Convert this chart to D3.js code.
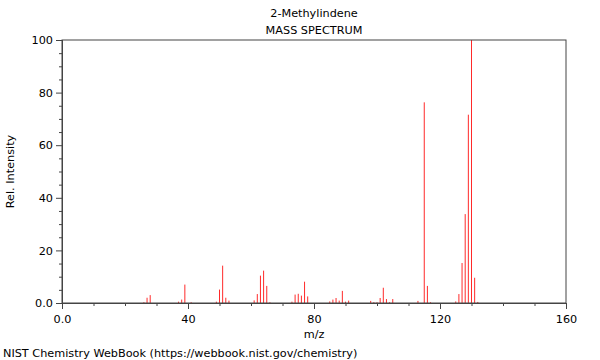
<!DOCTYPE html>
<html>
<head>
<meta charset="utf-8">
<script src="https://cdn.jsdelivr.net/npm/d3@7"></script>
<style>
  html, body { margin: 0; padding: 0; background: #fff; }
  svg { display: block; font-family: "DejaVu Sans", sans-serif; }
</style>
</head>
<body>
<svg id="chart" width="600" height="360"></svg>
<script>
const title = "2-Methylindene";
const subtitle = "MASS SPECTRUM";
const xLabel = "m/z";
const yLabel = "Rel. Intensity";
const footer = "NIST Chemistry WebBook (https://webbook.nist.gov/chemistry)";

const mz = [26, 27, 28, 37, 38, 39, 41, 49, 50, 51, 52, 53,
            61, 62, 63, 64, 65, 66, 73, 74, 75, 76, 77, 78,
            85, 86, 87, 88, 89, 90, 91, 98, 99, 100, 101, 102, 103, 104, 105,
            113, 115, 116, 117, 125, 126, 127, 128, 129, 130, 131, 132];
const intensity = [0.3, 2.0, 3.0, 0.5, 1.3, 7.0, 0.3, 0.5, 5.1, 14.2, 2.0, 0.9,
                   1.0, 3.4, 10.4, 12.3, 6.5, 0.3, 0.5, 3.2, 3.5, 2.8, 8.1, 2.5,
                   0.6, 1.3, 1.9, 0.9, 4.6, 0.5, 0.9, 0.8, 0.3, 0.3, 1.9, 5.8, 1.5, 0.3, 1.5,
                   0.8, 76.3, 6.5, 0.3, 0.6, 3.4, 15.2, 33.8, 71.6, 100, 9.6, 0.4];

const xMajorTicks = [0, 40, 80, 120, 160];
const xMinorTicks = [10, 20, 30, 50, 60, 70, 90, 100, 110, 130, 140, 150];
const yMajorTicks = [0, 20, 40, 60, 80, 100];
const yMinorTicks = [5, 10, 15, 25, 30, 35, 45, 50, 55, 65, 70, 75, 85, 90, 95];

const margin = {left: 62, right: 34, top: 40, bottom: 57};
const W = 600, H = 360;
const svg = d3.select("#chart");
const fs = "11.25px";

const x = d3.scaleLinear().domain([0, 160]).range([margin.left, W - margin.right]);
const y = d3.scaleLinear().domain([0, 100]).range([H - margin.bottom, margin.top]);

const axisColor = "#444";
const fmt = d => d === 0 ? "0.0" : String(d);

// peaks
svg.append("g").selectAll("line").data(mz).join("line")
  .attr("x1", d => x(d)).attr("x2", d => x(d))
  .attr("y1", y(0))
  .attr("y2", (d, i) => y(intensity[i]))
  .attr("stroke", "#ff2a2a")
  .attr("stroke-width", 1);

// frame
svg.append("rect")
  .attr("x", x(0)).attr("y", y(100))
  .attr("width", x(160) - x(0)).attr("height", y(0) - y(100))
  .attr("fill", "none").attr("stroke", axisColor).attr("stroke-width", 1);

// x axis
const gx = svg.append("g").attr("transform", `translate(0,${y(0)})`);
gx.call(d3.axisBottom(x).tickValues(xMajorTicks).tickFormat(fmt).tickSize(6).tickPadding(6));
const gx2 = svg.append("g").attr("transform", `translate(0,${y(0)})`);
gx2.call(d3.axisBottom(x).tickValues(xMinorTicks).tickFormat("").tickSize(3));

// y axis
const gy = svg.append("g").attr("transform", `translate(${x(0)},0)`);
gy.call(d3.axisLeft(y).tickValues(yMajorTicks).tickFormat(fmt).tickSize(6).tickPadding(3));
const gy2 = svg.append("g").attr("transform", `translate(${x(0)},0)`);
gy2.call(d3.axisLeft(y).tickValues(yMinorTicks).tickFormat("").tickSize(3));

[gx, gx2, gy, gy2].forEach(g => {
  g.select(".domain").attr("stroke", axisColor);
  g.selectAll(".tick line").attr("stroke", axisColor);
  g.selectAll(".tick text").attr("fill", "#000")
    .style("font-family", "DejaVu Sans, sans-serif").style("font-size", fs);
});

// titles
const cx = (x(0) + x(160)) / 2;
svg.append("text").attr("x", cx).attr("y", 17).attr("text-anchor", "middle")
  .style("font-size", fs).text(title);
svg.append("text").attr("x", cx).attr("y", 34).attr("text-anchor", "middle")
  .style("font-size", fs).text(subtitle);
svg.append("text").attr("x", cx).attr("y", 338).attr("text-anchor", "middle")
  .style("font-size", fs).text(xLabel);
svg.append("text").attr("transform", `translate(14,${(y(0) + y(100)) / 2}) rotate(-90)`)
  .attr("text-anchor", "middle").style("font-size", fs).text(yLabel);
svg.append("text").attr("x", 3).attr("y", 357)
  .style("font-size", fs).text(footer);
</script>
</body>
</html>
